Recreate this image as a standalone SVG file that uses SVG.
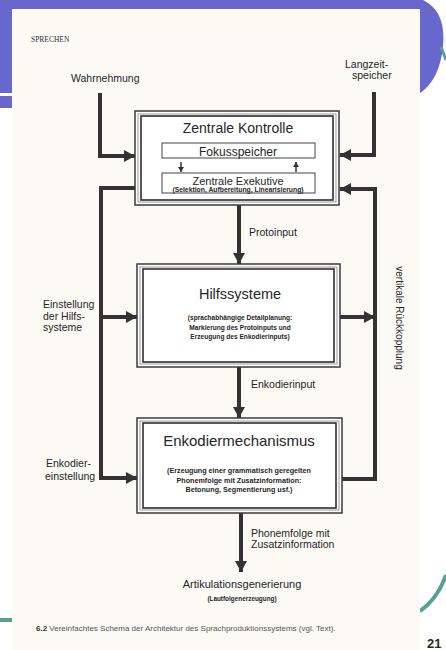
<svg xmlns="http://www.w3.org/2000/svg" width="446" height="650" viewBox="0 0 446 650">
<style>
.t{font-family:"Liberation Sans",Arial,sans-serif;fill:#262626}
.b{font-weight:bold}
.c{stroke:#333;stroke-width:4;fill:none}
.thin{stroke:#333;stroke-width:1.5;fill:none}
.o{fill:#fff;stroke:#3a3a3a;stroke-width:1.5}
.m{fill:none;stroke:#9a9a9a;stroke-width:1}
.i{fill:none;stroke:#2e2e2e;stroke-width:1.6}
.ib{fill:#fff;stroke:#444;stroke-width:1}
</style>
<defs>
<marker id="ah" markerUnits="userSpaceOnUse" markerWidth="12" markerHeight="12" refX="11" refY="6" orient="auto">
<path d="M0,0 L11,6 L0,12 z" fill="#333"/>
</marker>
<marker id="sa" markerUnits="userSpaceOnUse" markerWidth="6" markerHeight="6" refX="5" refY="3" orient="auto">
<path d="M0,0 L5,3 L0,6 z" fill="#333"/>
</marker>
</defs>
<!-- slide background -->
<rect x="0" y="0" width="446" height="650" fill="#ffffff"/>
<path d="M0,0 H423 C440,8 445,25 443,45 C441,70 432,85 420,93 V9 H12 V108 H0 Z" fill="#6767cc"/>
<rect x="0" y="93" width="12" height="3" fill="#ffffff"/>
<path d="M441,47 L446,60" stroke="#5a9e9a" stroke-width="3"/>
<path d="M446,575 C440,592 432,603 420,611" stroke="#5a9e9a" stroke-width="4" fill="none"/>
<rect x="0" y="618" width="12" height="4" fill="#5a9e9a"/>
<!-- page -->
<rect x="12" y="9" width="408" height="641" fill="#fcfaf5"/>
<text class="t" x="427" y="648" font-size="13" font-weight="bold" fill="#111">21</text>

<text x="31" y="42" font-family="Liberation Serif,serif" font-size="7.5" fill="#333">SPRECHEN</text>

<g id="connectors">
<path class="c" d="M100,93 V156 H135" marker-end="url(#ah)"/>
<path class="c" d="M374,92 V155 H340" marker-end="url(#ah)"/>
<path class="c" d="M135,188 H101 V478 H137" marker-end="url(#ah)"/>
<path class="c" d="M101,317 H137" marker-end="url(#ah)"/>
<path class="c" d="M342,479 H375 V189 H340" marker-end="url(#ah)"/>
<path class="c" d="M340,317 H375" marker-end="url(#ah)"/>
<path class="c" d="M239,205 V264" marker-end="url(#ah)"/>
<path class="c" d="M239,367 V418" marker-end="url(#ah)"/>
<path class="c" d="M241,513 V572" marker-end="url(#ah)"/>
</g>

<g id="wahrnehmung"><text class="t" x="71" y="82" font-size="10.5">Wahrnehmung</text></g>
<g id="langzeitspeicher">
<text class="t" x="345" y="68" font-size="10.5">Langzeit-</text>
<text class="t" x="352" y="79" font-size="10.5">speicher</text>
</g>

<g id="zentrale-kontrolle">
<rect class="o" x="135" y="111" width="204" height="94"/>
<rect class="m" x="138" y="114" width="198" height="88"/>
<rect class="i" x="141" y="116" width="192" height="84"/>
<text class="t" x="238" y="133" font-size="14" text-anchor="middle">Zentrale Kontrolle</text>
<rect class="ib" x="162" y="143" width="153" height="15"/>
<text class="t" x="238" y="155.5" font-size="12" text-anchor="middle">Fokusspeicher</text>
<path class="thin" d="M181,162 V172" marker-end="url(#sa)"/>
<path class="thin" d="M296,172 V162" marker-end="url(#sa)"/>
<rect class="ib" x="162" y="173" width="153" height="20"/>
<text class="t" x="238" y="185" font-size="11" text-anchor="middle">Zentrale Exekutive</text>
<text class="t b" x="238" y="192" font-size="6.8" text-anchor="middle">(Selektion, Aufbereitung, Linearisierung)</text>
</g>

<g id="protoinput"><text class="t" x="249" y="236" font-size="10.5">Protoinput</text></g>

<g id="hilfssysteme">
<rect class="o" x="137" y="264" width="203" height="103"/>
<rect class="m" x="140" y="267" width="197" height="97"/>
<rect class="i" x="143" y="269" width="191" height="93"/>
<text class="t" x="240" y="299" font-size="14.5" text-anchor="middle">Hilfssysteme</text>
<text class="t b" x="240" y="320" font-size="6.6" text-anchor="middle">(sprachabhängige Detailplanung:</text>
<text class="t b" x="240" y="329.5" font-size="6.6" text-anchor="middle">Markierung des Protoinputs und</text>
<text class="t b" x="240" y="339" font-size="6.6" text-anchor="middle">Erzeugung des Enkodierinputs)</text>
</g>

<g id="enkodierinput"><text class="t" x="251" y="388" font-size="10.5">Enkodierinput</text></g>

<g id="enkodiermechanismus">
<rect class="o" x="137" y="418" width="205" height="95"/>
<rect class="m" x="140" y="421" width="199" height="89"/>
<rect class="i" x="143" y="423" width="193" height="85"/>
<text class="t" x="239" y="446" font-size="15" text-anchor="middle">Enkodiermechanismus</text>
<text class="t b" x="239" y="473" font-size="7.2" text-anchor="middle">(Erzeugung einer grammatisch geregelten</text>
<text class="t b" x="239" y="482.5" font-size="7.2" text-anchor="middle">Phonemfolge mit Zusatzinformation:</text>
<text class="t b" x="239" y="492" font-size="7.2" text-anchor="middle">Betonung, Segmentierung usf.)</text>
</g>

<g id="einstellung">
<text class="t" x="43" y="308" font-size="10.5">Einstellung</text>
<text class="t" x="43" y="320" font-size="10.5">der Hilfs-</text>
<text class="t" x="43" y="331" font-size="10.5">systeme</text>
</g>
<g id="enkodiereinstellung">
<text class="t" x="46" y="467" font-size="10.5">Enkodier-</text>
<text class="t" x="45" y="480" font-size="10.5">einstellung</text>
</g>
<g id="rueckkopplung">
<text class="t" font-size="10" text-anchor="middle" transform="translate(396,318) rotate(90)">vertikale  Rückkopplung</text>
</g>

<g id="phonemfolge">
<text class="t" x="251" y="537" font-size="10.5">Phonemfolge mit</text>
<text class="t" x="251" y="548" font-size="10.5">Zusatzinformation</text>
</g>
<g id="artikulation">
<text class="t" x="242" y="588" font-size="11" text-anchor="middle">Artikulationsgenerierung</text>
<text class="t b" x="242" y="601" font-size="6.4" text-anchor="middle">(Lautfolgenerzeugung)</text>
</g>

<text x="36" y="631" font-family="Liberation Sans,Arial,sans-serif" font-size="8" fill="#555"><tspan font-weight="bold" fill="#333">6.2</tspan>  Vereinfachtes Schema der Architektur des Sprachproduktionssystems (vgl. Text).</text>
</svg>
